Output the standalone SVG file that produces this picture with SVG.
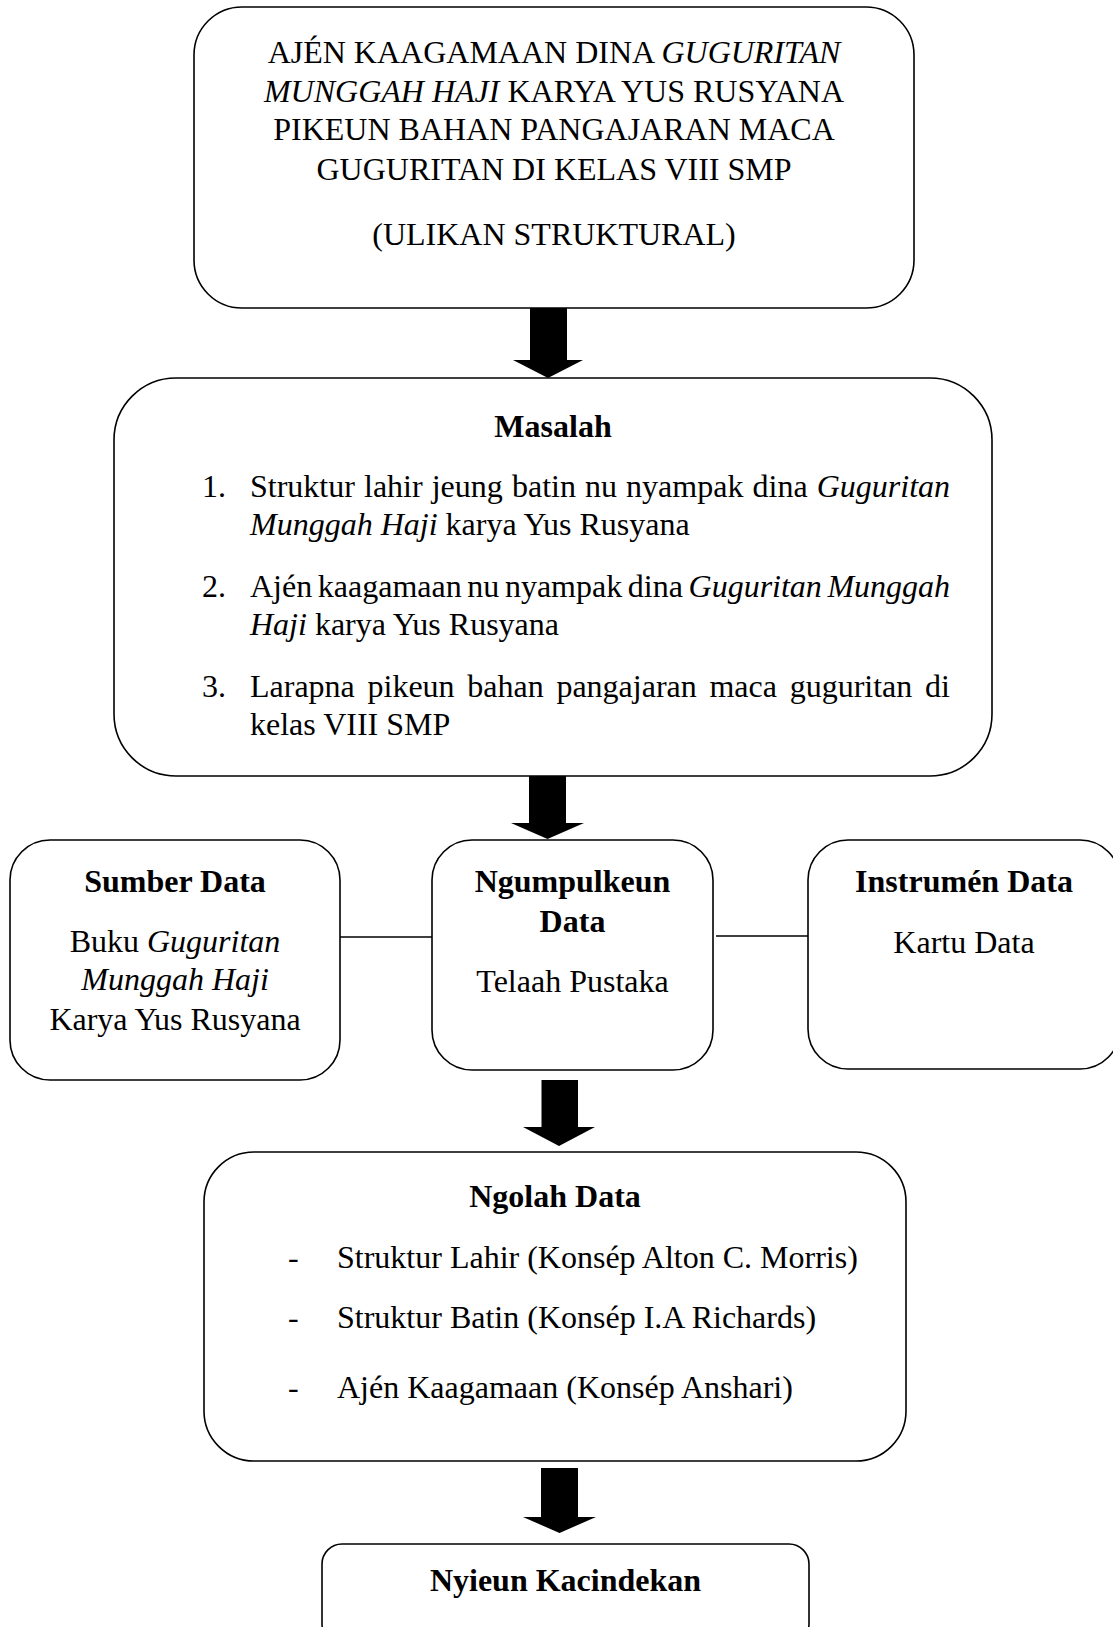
<svg xmlns="http://www.w3.org/2000/svg" width="1113" height="1627" viewBox="0 0 1113 1627">
<style>
  .box { fill: #ffffff; stroke: #000000; stroke-width: 1.6; }
  .t { font-family: "Liberation Serif", "Times New Roman", serif; font-size: 32px; fill: #000000; }
  .b { font-weight: bold; }
  .i { font-style: italic; }
  .c { text-anchor: middle; }
  .arrow { fill: #000000; stroke: none; }
  .line { stroke: #000000; stroke-width: 1.6; fill: none; }
</style>
<rect x="0" y="0" width="1113" height="1627" fill="#ffffff"/>

<g id="connectors">
  <polygon class="arrow" points="530,308 567,308 567,360 583,360 548,378 513,360 530,360"/>
  <polygon class="arrow" points="529,776 566,776 566,823 584,823 547.5,839 511,823 529,823"/>
  <polygon class="arrow" points="541.5,1080 578,1080 578,1127 595,1127 559,1146 523,1127 541.5,1127"/>
  <polygon class="arrow" points="541,1468 578,1468 578,1517 596,1517 559.5,1533 523,1517 541,1517"/>
  <line class="line" x1="340" y1="937" x2="432" y2="937"/>
  <line class="line" x1="716" y1="936" x2="816" y2="936" stroke-width="2"/>
</g>

<g id="node-title">
  <rect class="box" x="194" y="7" width="720" height="301" rx="48" ry="48"/>
  <text class="t c" x="554" y="63">AJÉN KAAGAMAAN DINA <tspan class="i">GUGURITAN</tspan></text>
  <text class="t c" x="554" y="102"><tspan class="i">MUNGGAH HAJI</tspan> KARYA YUS RUSYANA</text>
  <text class="t c" x="554" y="140">PIKEUN BAHAN PANGAJARAN MACA</text>
  <text class="t c" x="554" y="180">GUGURITAN DI KELAS VIII SMP</text>
  <text class="t c" x="554" y="245">(ULIKAN STRUKTURAL)</text>
</g>

<g id="node-masalah">
  <rect class="box" x="114" y="378" width="878" height="398" rx="62" ry="62"/>
  <text class="t b c" x="553" y="437">Masalah</text>
  <text class="t" x="202" y="497">1.</text>
  <text class="t" x="250" y="497" word-spacing="1.1">Struktur lahir jeung batin nu nyampak dina <tspan class="i">Guguritan</tspan></text>
  <text class="t" x="250" y="535"><tspan class="i">Munggah Haji</tspan> karya Yus Rusyana</text>
  <text class="t" x="202" y="597">2.</text>
  <text class="t" x="250" y="597" word-spacing="-2.4">Ajén kaagamaan nu nyampak dina <tspan class="i">Guguritan Munggah</tspan></text>
  <text class="t" x="250" y="635"><tspan class="i">Haji</tspan> karya Yus Rusyana</text>
  <text class="t" x="202" y="697">3.</text>
  <text class="t" x="250" y="697" word-spacing="4.7">Larapna pikeun bahan pangajaran maca guguritan di</text>
  <text class="t" x="250" y="735">kelas VIII SMP</text>
</g>

<g id="node-sumber">
  <rect class="box" x="10" y="840" width="330" height="240" rx="40" ry="40"/>
  <text class="t b c" x="175" y="892">Sumber Data</text>
  <text class="t c" x="175" y="952">Buku <tspan class="i">Guguritan</tspan></text>
  <text class="t i c" x="175" y="990">Munggah Haji</text>
  <text class="t c" x="175" y="1030">Karya Yus Rusyana</text>
</g>

<g id="node-ngumpulkeun">
  <rect class="box" x="432" y="840" width="281" height="230" rx="40" ry="40"/>
  <text class="t b c" x="572.5" y="892">Ngumpulkeun</text>
  <text class="t b c" x="572.5" y="932">Data</text>
  <text class="t c" x="572.5" y="992">Telaah Pustaka</text>
</g>

<g id="node-instrumen">
  <rect class="box" x="808" y="840" width="312" height="229" rx="40" ry="40"/>
  <text class="t b c" x="964" y="892">Instrumén Data</text>
  <text class="t c" x="964" y="953">Kartu Data</text>
</g>

<g id="node-ngolah">
  <rect class="box" x="204" y="1152" width="702" height="309" rx="50" ry="50"/>
  <text class="t b c" x="555" y="1207">Ngolah Data</text>
  <text class="t" x="288" y="1268">-</text>
  <text class="t" x="337" y="1268">Struktur Lahir (Konsép Alton C. Morris)</text>
  <text class="t" x="288" y="1328">-</text>
  <text class="t" x="337" y="1328">Struktur Batin (Konsép I.A Richards)</text>
  <text class="t" x="288" y="1398">-</text>
  <text class="t" x="337" y="1398">Ajén Kaagamaan (Konsép Anshari)</text>
</g>

<g id="node-kacindekan">
  <rect class="box" x="322" y="1544" width="487" height="100" rx="20" ry="20"/>
  <text class="t b c" x="565.5" y="1591">Nyieun Kacindekan</text>
</g>
</svg>
